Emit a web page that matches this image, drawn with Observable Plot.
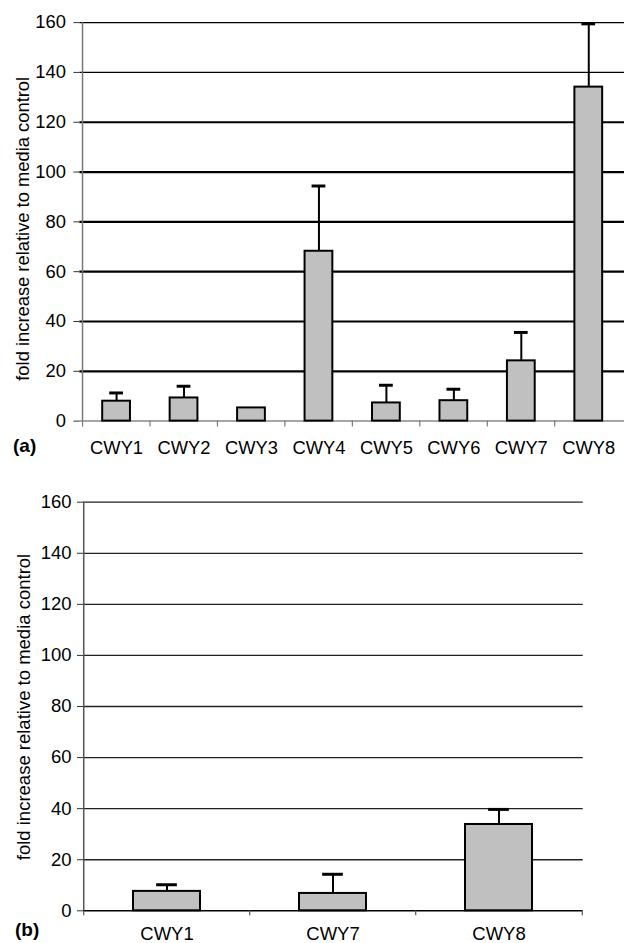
<!DOCTYPE html>
<html>
<head>
<meta charset="utf-8">
<script src="https://cdn.jsdelivr.net/npm/d3@7"></script>
<script src="https://cdn.jsdelivr.net/npm/@observablehq/plot@0.6"></script>
<style>
  html, body { margin: 0; padding: 0; background: #fff; overflow: hidden; }
  #wrap { position: relative; width: 624px; height: 943px; overflow: hidden; font-family: "Liberation Sans", Arial, sans-serif; }
  .panel { position: absolute; left: 0; }
  .tag { position: absolute; font-weight: bold; font-size: 19px; line-height: 19px; color: #000; }
</style>
</head>
<body>
<div id="wrap">
  <div id="pa" class="panel" style="top:0px"></div>
  <div id="pb" class="panel" style="top:478px"></div>
  <div class="tag" style="left:13px; top:436px">(a)</div>
  <div class="tag" style="left:15px; top:920px">(b)</div>
</div>
<script>
// ---- data ----
const catsA = ["CWY1", "CWY2", "CWY3", "CWY4", "CWY5", "CWY6", "CWY7", "CWY8"];
const meansA = [8.0, 9.3, 5.3, 68.2, 7.3, 8.2, 24.2, 134.1];
const errA = [3.3, 4.7, 0, 26.2, 7.1, 4.6, 11.4, 25.4];

const catsB = ["CWY1", "CWY7", "CWY8"];
const meansB = [7.6, 6.8, 33.8];
const errB = [2.6, 7.5, 5.9];

const yTicks = [0, 20, 40, 60, 80, 100, 120, 140, 160];
const gridThickA = [20, 40, 60, 80, 100, 120];
const gridThinA = [140, 160];
const gridB = [20, 40, 60, 80, 100, 120, 140, 160];
const yTitle = "fold increase relative to media control";

const FONT = "Liberation Sans, Arial, sans-serif";

function panel(cfg) {
  const data = cfg.cats.map((c, i) => ({cat: c, mean: cfg.means[i], err: cfg.errs[i]}));
  const withErr = data.filter(d => d.err > 0);
  const step = (cfg.width - cfg.marginLeft - cfg.marginRight) / cfg.cats.length;
  const bw = step * (1 - cfg.padIn);
  const capInset = (bw - cfg.capWidth) / 2;
  const grids = cfg.grids.map(g => Plot.ruleY(g.values, {stroke: g.stroke, strokeWidth: g.width}));
  return Plot.plot({
    width: cfg.width,
    height: cfg.height,
    marginLeft: cfg.marginLeft,
    marginRight: cfg.marginRight,
    marginTop: cfg.marginTop,
    marginBottom: cfg.marginBottom,
    style: {fontFamily: FONT, background: "transparent", overflow: "visible"},
    x: {domain: cfg.cats, paddingInner: cfg.padIn, paddingOuter: cfg.padIn / 2, align: 0.5, label: null},
    y: {domain: [0, 160], label: null},
    marks: [
      ...grids,
      // y axis line
      Plot.ruleX([cfg.cats[0]], {dx: -step / 2, y1: 0, y2: 160, stroke: cfg.axisStroke, strokeWidth: 1.5}),
      // x axis line
      Plot.ruleY([0], {stroke: cfg.baseStroke, strokeWidth: cfg.baseWidth}),
      // category boundary ticks
      Plot.axisX({ticks: cfg.cats, tickSize: cfg.xTickSize, text: null, label: null, dx: -step / 2, stroke: cfg.axisStroke, strokeWidth: 1.2}),
      ...(cfg.endTick ? [Plot.axisX({ticks: [cfg.cats[cfg.cats.length - 1]], tickSize: cfg.xTickSize, text: null, label: null, dx: step / 2, stroke: cfg.axisStroke, strokeWidth: 1.2})] : []),
      // category labels
      Plot.axisX({tickSize: 0, tickPadding: cfg.xLabelPad, fontSize: cfg.fontSize, fill: "#000", label: null}),
      // y axis
      Plot.axisY({ticks: yTicks, tickSize: 6, tickPadding: cfg.yTickPad, fontSize: cfg.fontSize, fill: "#000", stroke: "#333", tickFormat: d => String(d), label: null}),
      Plot.text([yTitle], {text: d => d, frameAnchor: "left", rotate: -90, dx: cfg.titleDx, dy: cfg.titleDy, lineAnchor: "bottom", textAnchor: "middle", fontSize: cfg.fontSize, fill: "#000"}),
      // bars
      Plot.barY(data, {x: "cat", y: "mean", fill: "#c0c0c0", stroke: "#000", strokeWidth: 2}),
      // error bars
      Plot.ruleX(withErr, {x: "cat", y1: "mean", y2: d => d.mean + d.err, stroke: "#000", strokeWidth: 2}),
      Plot.tickY(withErr, {x: "cat", y: d => d.mean + d.err, stroke: "#000", strokeWidth: 3, insetLeft: capInset, insetRight: capInset})
    ]
  });
}

const hA = 462;
document.getElementById("pa").appendChild(panel({
  cats: catsA, means: meansA, errs: errA,
  width: 629, height: hA, marginLeft: 80, marginRight: 0, marginTop: 22.3, marginBottom: hA - 424,
  padIn: 0.59, capWidth: 14,
  grids: [{values: gridThickA, stroke: "#000", width: 2.2}, {values: gridThinA, stroke: "#000", width: 1.2}],
  axisStroke: "#777", baseStroke: "#888", baseWidth: 1.5, xTickSize: 6, endTick: false,
  xLabelPad: 20, yTickPad: 8, fontSize: 18.5, titleDx: -51, titleDy: 7
}));

const hB = 943 - 478;
document.getElementById("pb").appendChild(panel({
  cats: catsB, means: meansB, errs: errB,
  width: 624, height: hB, marginLeft: 83, marginRight: 41.3, marginTop: 23.7, marginBottom: 943 - 910.3,
  padIn: 0.596, capWidth: 21,
  grids: [{values: gridB, stroke: "#222", width: 1.3}],
  axisStroke: "#555", baseStroke: "#000", baseWidth: 1.6, xTickSize: 5, endTick: true,
  xLabelPad: 16.5, yTickPad: 6, fontSize: 18.5, titleDx: -53.5, titleDy: 0.5
}));
</script>
</body>
</html>
